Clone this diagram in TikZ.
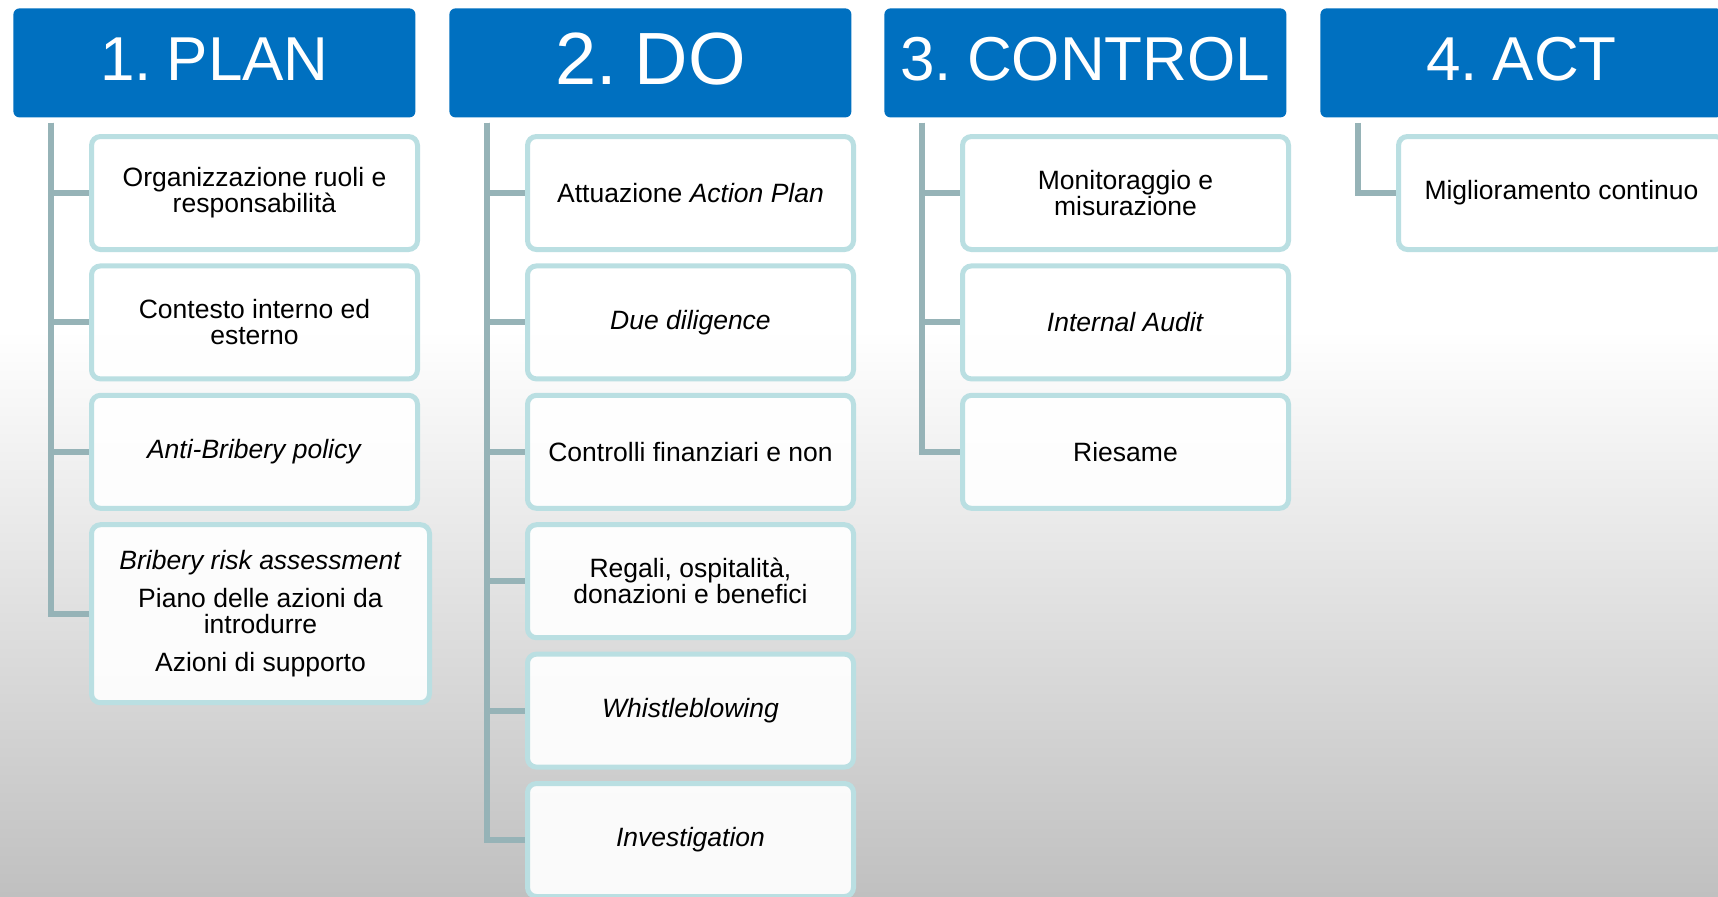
\documentclass[tikz,border=0pt]{standalone}
\usepackage{fontspec}
\setmainfont{Liberation Sans}
\definecolor{blufase}{RGB}{0,112,192}
\definecolor{bordovoce}{RGB}{186,223,226}
\definecolor{grigioramo}{RGB}{150,179,183}
\definecolor{sfondo}{RGB}{192,192,192}
\tikzstyle{fase}=[
    anchor=north west, fill=blufase, rounded corners=3pt, inner sep=0pt,
    minimum width=201pt, minimum height=54.5pt, text=white, text depth=4pt,
    font={\fontsize{31}{36}\selectfont\spaceskip=.15em\relax},
]
\tikzstyle{voce}=[
    anchor=north west, draw=bordovoce, line width=2.5pt, rounded corners=4.5pt,
    fill=white, fill opacity=.92, text opacity=1, align=center,
    minimum width=163pt, minimum height=56.5pt,
    font={\fontsize{13.25}{12.9}\selectfont},
]
\tikzstyle{ramo}=[draw=grigioramo, line width=3pt]

\newcommand{\colonna}[4][]{
    \begin{scope}[#1]
    \node[fase] (#2) at (13,8) {#3};
    \coordinate (#2-radice) at ([shift={(38,5)}]#2.south west);
    \foreach \testo [count=\i] in {#4}{
        \pgfmathsetmacro{\ytop}{134+129.4*(\i-1)}
        \node[voce, voce \i/.try] (#2-\i) at (89,\ytop) {\testo};
        \draw[ramo] (#2-radice) |- (#2-\i.west);
    }
    \end{scope}
}

\begin{document}
\begin{tikzpicture}[x=0.5pt, y=-0.5pt]

    \clip (0,0) rectangle (1718,896);
    \fill[white] (0,0) rectangle (1718,330);
    \shade[top color=white, bottom color=sfondo] (0,330) rectangle (1718,896);

    \colonna[voce 4/.style={minimum width=169pt, minimum height=89pt}]%
        {plan}{1. PLAN}{{Organizzazione ruoli e\\responsabilità},{Contesto interno ed\\esterno},{\textit{Anti-Bribery policy}},{\textit{Bribery risk assessment}\\[6pt]Piano delle azioni da\\introdurre\\[6pt]Azioni di supporto}}
    \colonna[shift={(436,0)}, fase/.append style={font={\fontsize{37}{42}\selectfont\spaceskip=.15em\relax}}]%
        {do}{2. DO}{{Attuazione \textit{Action Plan}},{\textit{Due diligence}},{Controlli finanziari e non},{Regali, ospitalità,\\donazioni e benefici},{\textit{Whistleblowing}},{\textit{Investigation}}}
    \colonna[shift={(871,0)}]%
        {control}{3. CONTROL}{{Monitoraggio e\\misurazione},{\textit{Internal Audit}},{Riesame}}
    \colonna[shift={(1307,0)}]%
        {act}{4. ACT}{{Miglioramento continuo}}

\end{tikzpicture}
\end{document}
